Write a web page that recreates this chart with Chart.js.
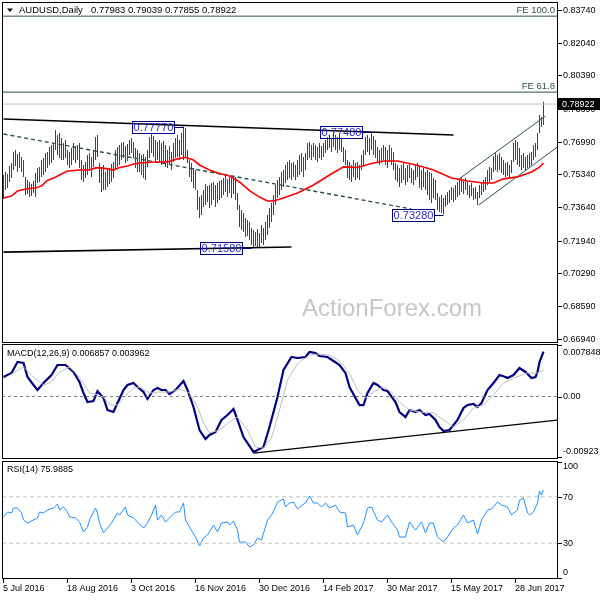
<!DOCTYPE html>
<html>
<head>
<meta charset="utf-8">
<title>AUDUSD Daily</title>
<script src="https://cdn.jsdelivr.net/npm/chart.js@4.4.1/dist/chart.umd.min.js"></script>
<style>
  html, body { margin: 0; padding: 0; background: #fff; }
  #wrap { position: relative; width: 600px; height: 600px; overflow: hidden; }
  #wrap canvas { position: absolute; left: 0; top: 0; }
</style>
</head>
<body>
<div id="wrap">
  <canvas id="priceCanvas" width="600" height="600"></canvas>
  <canvas id="macdCanvas" width="600" height="600"></canvas>
  <canvas id="rsiCanvas" width="600" height="600"></canvas>
</div>
<script>
// daily bars, 5 Jul 2016 .. 11 Jul 2017 (index = trading day)
var highs = [
  0.7530,0.7545,0.7535,0.7576,0.7591,0.7647,0.7658,0.7637,0.7647,0.7622,
  0.7606,0.7520,0.7504,0.7494,0.7484,0.7499,0.7540,0.7566,0.7571,0.7606,
  0.7617,0.7642,0.7647,0.7673,0.7683,0.7693,0.7760,0.7734,0.7744,0.7719,
  0.7693,0.7709,0.7658,0.7647,0.7668,0.7693,0.7678,0.7683,0.7693,0.7606,
  0.7581,0.7596,0.7632,0.7642,0.7622,0.7658,0.7724,0.7734,0.7591,0.7566,
  0.7581,0.7545,0.7555,0.7566,0.7586,0.7596,0.7658,0.7673,0.7683,0.7693,
  0.7698,0.7678,0.7688,0.7709,0.7719,0.7698,0.7668,0.7658,0.7642,0.7632,
  0.7637,0.7622,0.7658,0.7724,0.7744,0.7729,0.7709,0.7698,0.7709,0.7693,
  0.7703,0.7683,0.7658,0.7678,0.7647,0.7693,0.7719,0.7734,0.7709,0.7744,
  0.7777,0.7770,0.7658,0.7606,0.7591,0.7566,0.7555,0.7453,0.7417,0.7428,
  0.7453,0.7484,0.7474,0.7479,0.7489,0.7494,0.7479,0.7489,0.7499,0.7504,
  0.7514,0.7525,0.7509,0.7520,0.7514,0.7525,0.7520,0.7438,0.7376,0.7351,
  0.7336,0.7310,0.7300,0.7290,0.7259,0.7249,0.7239,0.7254,0.7233,0.7274,
  0.7259,0.7290,0.7325,0.7361,0.7387,0.7428,0.7479,0.7504,0.7520,0.7545,
  0.7555,0.7581,0.7596,0.7606,0.7591,0.7596,0.7581,0.7606,0.7632,0.7642,
  0.7622,0.7642,0.7693,0.7698,0.7683,0.7693,0.7683,0.7673,0.7693,0.7678,
  0.7693,0.7709,0.7724,0.7734,0.7719,0.7748,0.7734,0.7724,0.7739,0.7719,
  0.7673,0.7658,0.7606,0.7596,0.7581,0.7606,0.7591,0.7596,0.7581,0.7632,
  0.7658,0.7724,0.7734,0.7719,0.7748,0.7729,0.7709,0.7673,0.7658,0.7668,
  0.7683,0.7673,0.7658,0.7683,0.7668,0.7647,0.7591,0.7581,0.7566,0.7581,
  0.7591,0.7566,0.7581,0.7591,0.7566,0.7555,0.7581,0.7591,0.7581,0.7555,
  0.7566,0.7545,0.7555,0.7545,0.7540,0.7514,0.7504,0.7438,0.7417,0.7428,
  0.7412,0.7428,0.7443,0.7453,0.7468,0.7463,0.7479,0.7494,0.7504,0.7520,
  0.7504,0.7514,0.7494,0.7479,0.7489,0.7463,0.7468,0.7443,0.7479,0.7494,
  0.7504,0.7520,0.7555,0.7571,0.7566,0.7627,0.7642,0.7632,0.7642,0.7622,
  0.7606,0.7591,0.7596,0.7581,0.7606,0.7693,0.7709,0.7698,0.7668,0.7632,
  0.7642,0.7622,0.7632,0.7642,0.7647,0.7683,0.7693,0.7744,0.7836,0.7826,
  0.79039
];
var lows = [
  0.7407,0.7453,0.7463,0.7494,0.7514,0.7555,0.7576,0.7545,0.7566,0.7545,
  0.7520,0.7428,0.7433,0.7417,0.7422,0.7438,0.7417,0.7489,0.7494,0.7520,
  0.7530,0.7545,0.7566,0.7581,0.7591,0.7606,0.7658,0.7632,0.7617,0.7606,
  0.7606,0.7617,0.7581,0.7566,0.7581,0.7606,0.7591,0.7606,0.7566,0.7504,
  0.7494,0.7514,0.7530,0.7555,0.7520,0.7571,0.7606,0.7622,0.7489,0.7443,
  0.7453,0.7453,0.7468,0.7484,0.7494,0.7514,0.7555,0.7571,0.7581,0.7606,
  0.7617,0.7591,0.7601,0.7632,0.7642,0.7617,0.7566,0.7545,0.7545,0.7530,
  0.7514,0.7504,0.7571,0.7617,0.7642,0.7622,0.7591,0.7606,0.7596,0.7581,
  0.7591,0.7571,0.7566,0.7581,0.7555,0.7596,0.7617,0.7622,0.7606,0.7632,
  0.7606,0.7617,0.7591,0.7520,0.7494,0.7463,0.7453,0.7351,0.7310,0.7325,
  0.7366,0.7376,0.7392,0.7361,0.7376,0.7402,0.7366,0.7387,0.7402,0.7412,
  0.7428,0.7443,0.7417,0.7438,0.7412,0.7433,0.7402,0.7351,0.7264,0.7249,
  0.7239,0.7213,0.7218,0.7198,0.7172,0.7162,0.7167,0.7158,0.7162,0.7182,
  0.7172,0.7198,0.7223,0.7259,0.7290,0.7325,0.7376,0.7412,0.7428,0.7453,
  0.7468,0.7489,0.7504,0.7514,0.7504,0.7520,0.7504,0.7520,0.7530,0.7545,
  0.7520,0.7555,0.7606,0.7617,0.7606,0.7622,0.7606,0.7596,0.7617,0.7606,
  0.7622,0.7642,0.7658,0.7668,0.7647,0.7673,0.7658,0.7642,0.7658,0.7647,
  0.7596,0.7581,0.7514,0.7504,0.7494,0.7520,0.7504,0.7514,0.7504,0.7555,
  0.7581,0.7632,0.7647,0.7632,0.7658,0.7632,0.7617,0.7596,0.7581,0.7591,
  0.7606,0.7581,0.7566,0.7596,0.7581,0.7555,0.7504,0.7494,0.7468,0.7489,
  0.7504,0.7479,0.7494,0.7514,0.7489,0.7479,0.7504,0.7520,0.7463,0.7453,
  0.7468,0.7453,0.7428,0.7402,0.7387,0.7412,0.7402,0.7351,0.7341,0.7336,
  0.7328,0.7366,0.7376,0.7387,0.7402,0.7392,0.7402,0.7417,0.7428,0.7443,
  0.7433,0.7453,0.7428,0.7412,0.7422,0.7402,0.7407,0.7376,0.7412,0.7428,
  0.7443,0.7453,0.7479,0.7494,0.7504,0.7545,0.7555,0.7545,0.7555,0.7540,
  0.7530,0.7520,0.7525,0.7514,0.7540,0.7596,0.7606,0.7581,0.7571,0.7555,
  0.7566,0.7555,0.7566,0.7571,0.7581,0.7606,0.7622,0.7658,0.7744,0.7775,
  0.77855
];
var lastOHLC = [0.77983, 0.79039, 0.77855, 0.78922];

// red moving average
var maIdx = [0,4,7,11,16,19,22,25,28,32,38,43,46,49,52,55,58,62,65,68,75,82,87,91,95,98,103,107,113,118,
  123,128,132,135,140,147,155,163,170,177,183,190,197,204,210,215,224,232,240,245,250,257,264,268,270];
var maVal = [0.7412,0.7422,0.7448,0.7458,0.7463,0.7474,0.7502,0.7514,0.7530,0.7550,0.7555,0.7555,0.7566,0.7566,
  0.7561,0.7555,0.7568,0.7576,0.7586,0.7591,0.7596,0.7596,0.7612,0.7620,0.7606,0.7581,0.7555,0.7540,0.7525,0.7494,
  0.7450,0.7417,0.7397,0.7397,0.7412,0.7438,0.7479,0.7530,0.7571,0.7568,0.7586,0.7601,0.7601,0.7586,0.7571,0.7555,
  0.7514,0.7499,0.7489,0.7489,0.7510,0.7520,0.7545,0.7570,0.7591];

// drawn lines on the price panel: [index, price]
var resistLine = [[0, 0.7816], [225, 0.7734]];
var supportLine = [[0, 0.7136], [144, 0.7162]];
var dashedLine = [[0, 0.7739], [204, 0.7356]];
var channelTop = [[227, 0.7504], [271, 0.7831]];
var channelBottom = [[237.5, 0.7376], [277, 0.7673]];
var fe100 = 0.8341, fe618 = 0.7953;

var swingIdx = [90, 184, 124, 220];
var swingPrice = [0.7777, 0.7748, 0.7158, 0.7328];

var priceTicks = [0.8374, 0.8204, 0.8039, 0.7869, 0.7699, 0.7534, 0.7364, 0.7194, 0.7029, 0.6859, 0.6694];

// MACD(12,26,9)
var macdIdx = [0,4,7,10,12,15,17,20,24,27,31,35,38,40,42,45,47,50,52,55,57,60,62,65,67,70,72,75,77,79,81,83,86,90,
  92,95,98,101,103,106,109,112,115,117,120,125,127,130,133,137,140,144,147,151,153,156,158,162,165,168,171,173,176,
  178,180,182,185,187,190,192,196,198,201,203,206,208,211,213,216,218,220,223,227,230,232,235,237,239,242,245,248,
  251,252,255,258,261,264,266,267,268,270];
var macdVal = [0.00297,0.00358,0.00526,0.00511,0.00297,0.00175,0.00099,0.00206,0.00328,0.00480,0.00480,0.00374,
  0.00221,0.00053,-0.00084,-0.00069,0.00084,-0.00023,-0.00206,-0.00236,-0.00099,0.00099,0.00175,0.00206,0.00145,
  0.00069,-0.00038,0.00099,0.00130,0.00099,0.00099,0.00038,0.00099,0.00236,0.00099,-0.00160,-0.00511,-0.00648,
  -0.00587,-0.00541,-0.00358,-0.00282,-0.00191,-0.00358,-0.00618,-0.00846,-0.00816,-0.00770,-0.00465,-0.00008,
  0.00404,0.00602,0.00587,0.00602,0.00679,0.00663,0.00618,0.00602,0.00541,0.00480,0.00358,0.00145,-0.00023,
  -0.00130,-0.00130,0.00053,0.00206,0.00175,0.00099,0.00084,-0.00084,-0.00236,-0.00313,-0.00206,-0.00236,-0.00206,
  -0.00282,-0.00267,-0.00358,-0.00465,-0.00526,-0.00511,-0.00358,-0.00175,-0.00130,-0.00114,-0.00160,-0.00099,
  0.00099,0.00206,0.00328,0.00297,0.00282,0.00328,0.00435,0.00374,0.00282,0.00297,0.00374,0.00526,0.006857];
var sigIdx = [0,5,10,15,20,24,28,33,38,43,47,50,53,57,60,65,68,73,78,83,88,93,97,100,103,108,113,117,122,126,
  130,134,138,142,147,153,158,163,168,173,177,181,185,190,194,198,203,208,215,220,225,230,235,240,245,250,255,262,267,270];
var sigVal = [0.00267,0.00358,0.00450,0.00297,0.00175,0.00221,0.00374,0.00450,0.00297,0.00053,0.00023,-0.00008,
  -0.00130,-0.00130,-0.00023,0.00130,0.00145,0.00053,0.00069,0.00069,0.00114,0.00053,-0.00160,-0.00404,-0.00557,
  -0.00511,-0.00389,-0.00313,-0.00511,-0.00770,-0.00785,-0.00633,-0.00206,0.00252,0.00500,0.00633,0.00648,0.00633,
  0.00541,0.00358,0.00099,-0.00023,0.00069,0.00145,0.00069,-0.00084,-0.00206,-0.00236,-0.00252,-0.00358,-0.00465,
  -0.00358,-0.00175,-0.00130,0.00023,0.00206,0.00282,0.00358,0.00358,0.003962];
var macdTrend = [[125, -0.00862], [277, -0.00358]];
var macdTicks = [0.007848, 0, -0.00923];
var macdTickText = ['0.007848', '0.00', '-0.00923'];

// RSI(14)
var rsiIdx = [0,2,4,5,7,9,10,12,15,17,18,20,22,25,27,28,30,32,33,36,38,40,42,43,46,47,48,50,52,54,57,58,61,62,65,
  67,70,72,74,76,77,79,81,83,86,88,90,91,93,96,98,100,102,105,107,109,112,113,115,117,118,121,123,125,127,129,132,
  134,136,137,140,141,143,145,147,148,151,153,155,157,159,161,163,166,168,171,172,175,177,180,182,184,187,189,192,
  194,197,198,201,203,206,209,211,213,215,217,220,222,225,227,230,232,235,237,239,242,244,247,249,252,254,257,258,
  260,262,263,265,267,268,269,270];
var rsiVal = [52.6,56.9,56.0,60.3,60.3,56.0,50.0,47.4,50.0,51.7,56.9,56.0,58.6,60.3,63.8,58.6,61.2,56.9,52.6,51.7,
  48.3,39.7,44.0,50.0,60.3,56.0,47.4,38.8,43.1,47.4,56.0,54.3,61.2,54.3,51.7,48.3,43.1,47.4,54.3,62.9,50.0,54.3,
  48.3,51.7,56.9,56.9,64.7,50.0,44.0,35.3,27.6,34.5,37.1,45.7,39.7,47.4,48.3,45.7,49.1,41.4,31.0,31.0,26.7,28.4,
  34.5,32.8,50.0,54.3,61.2,65.5,68.1,61.2,64.7,65.5,59.5,61.2,64.7,70.7,64.7,64.7,61.2,64.7,60.3,62.9,56.9,56.0,
  44.0,45.7,37.1,47.4,60.3,61.2,50.0,48.3,54.3,48.3,41.4,35.3,35.3,48.3,41.4,48.3,38.8,47.4,47.4,35.3,31.0,35.3,
  43.1,45.7,54.3,47.4,50.0,37.9,50.0,58.6,59.5,65.5,62.9,61.2,54.3,58.6,67.2,69.0,56.0,54.3,56.9,64.7,75.0,71.5,
  75.9885];
var rsiTicks = [100, 70, 30, 0];

var dateIdx = [0, 32, 64, 96, 128, 160, 192, 224, 256];
var dateLabels = ['5 Jul 2016', '18 Aug 2016', '3 Oct 2016', '16 Nov 2016', '30 Dec 2016',
  '14 Feb 2017', '30 Mar 2017', '15 May 2017', '28 Jun 2017'];

var FONT = "'Liberation Sans', Arial, sans-serif";
var X_MIN = -0.75, X_MAX = 276.75;

function pts(xs, ys) { return xs.map(function (x, k) { return { x: x, y: ys[k] }; }); }
function seg(line) { return line.map(function (p) { return { x: p[0], y: p[1] }; }); }
function level(v) { return [{ x: X_MIN, y: v }, { x: X_MAX, y: v }]; }

function lineSet(data, color, width, dash) {
  return {
    type: 'line', data: data, borderColor: color, borderWidth: width,
    borderDash: dash || [], pointRadius: 0, tension: 0, fill: false, order: 1
  };
}

function makeOptions(pad, ymin, ymax) {
  return {
    responsive: false, animation: false, events: [], devicePixelRatio: 1,
    layout: { padding: pad },
    plugins: { legend: { display: false }, tooltip: { enabled: false } },
    scales: {
      x: { type: 'linear', min: X_MIN, max: X_MAX, display: false, offset: false, grid: { offset: false } },
      y: { type: 'linear', min: ymin, max: ymax, display: false, beginAtZero: false }
    }
  };
}

function drawFrame(ctx, a) {
  ctx.save();
  ctx.strokeStyle = '#000';
  ctx.lineWidth = 1;
  ctx.strokeRect(a.left + 0.5, a.top + 0.5, a.right - a.left, a.bottom - a.top);
  ctx.restore();
}

function axisLabel(ctx, text, yTick, dy) {
  var y = Math.round(yTick) + 0.5;
  ctx.beginPath();
  ctx.moveTo(558, y);
  ctx.lineTo(562, y);
  ctx.stroke();
  ctx.fillText(text, 563, yTick + dy);
}

// ---------- price panel ----------
var priceDecor = {
  id: 'priceDecor',
  beforeDatasetsDraw: function (chart) {
    var ctx = chart.ctx;
    ctx.save();
    ctx.fillStyle = '#c6c6c6';
    ctx.font = '24px ' + FONT;
    ctx.textAlign = 'left';
    ctx.textBaseline = 'alphabetic';
    ctx.fillText('ActionForex.com', 302, 316);
    ctx.restore();
  },
  afterDraw: function (chart) {
    var ctx = chart.ctx, xs = chart.scales.x, ys = chart.scales.y;
    drawFrame(ctx, chart.chartArea);
    ctx.save();
    ctx.strokeStyle = '#000';
    ctx.lineWidth = 1;
    ctx.fillStyle = '#000';
    ctx.font = '9px ' + FONT;
    ctx.textAlign = 'left';
    ctx.textBaseline = 'middle';
    priceTicks.forEach(function (v) { axisLabel(ctx, v.toFixed(5), ys.getPixelForValue(v), 0.5); });

    // current price
    var cy = ys.getPixelForValue(lastOHLC[3]);
    ctx.fillStyle = '#000';
    ctx.fillRect(558, Math.round(cy) - 6, 42, 12);
    ctx.fillStyle = '#fff';
    ctx.fillText(lastOHLC[3].toFixed(5), 562, cy + 0.5);

    // title
    ctx.fillStyle = '#000';
    ctx.beginPath();
    ctx.moveTo(7, 8.5); ctx.lineTo(13, 8.5); ctx.lineTo(10, 12); ctx.closePath();
    ctx.fill();
    ctx.font = '9.5px ' + FONT;
    ctx.fillText('AUDUSD,Daily', 19, 10.5);
    ctx.fillText(lastOHLC.map(function (v) { return v.toFixed(5); }).join(' '), 91, 10.5);

    // fibonacci expansion labels
    ctx.fillStyle = '#2f4f4f';
    ctx.textAlign = 'right';
    ctx.fillText('FE 100.0', 555, ys.getPixelForValue(fe100) - 6);
    ctx.fillText('FE 61.8', 555, ys.getPixelForValue(fe618) - 6);

    // swing high / low tags
    ctx.font = '11px ' + FONT;
    ctx.textAlign = 'center';
    ctx.strokeStyle = '#000080';
    swingIdx.forEach(function (idx, k) {
      var px = xs.getPixelForValue(idx);
      var py = Math.round(ys.getPixelForValue(swingPrice[k])) + 0.5;
      var right = Math.round(px - 10) + 0.5, left = right - 42;
      ctx.strokeRect(left, py - 6, 42, 12);
      ctx.beginPath();
      ctx.moveTo(right, py);
      ctx.lineTo(px, py);
      ctx.stroke();
      ctx.fillStyle = '#2b2bc4';
      ctx.fillText(swingPrice[k].toFixed(5), left + 21, py + 0.5);
    });
    ctx.restore();
  }
};

new Chart(document.getElementById('priceCanvas'), {
  type: 'bar',
  data: {
    datasets: [
      {
        type: 'bar',
        data: highs.map(function (h, k) { return { x: k, y: [lows[k], h] }; }),
        backgroundColor: '#1e4d6b', borderWidth: 0, barThickness: 1,
        inflateAmount: 0, order: 10
      },
      lineSet(maPts = pts(maIdx, maVal), '#ff0000', 1.6),
      lineSet(seg(resistLine), '#000000', 1.6),
      lineSet(seg(supportLine), '#000000', 1.6),
      lineSet(seg(dashedLine), '#2f4f4f', 1.4, [4, 3]),
      lineSet(seg(channelTop), '#2f4f4f', 1),
      lineSet(seg(channelBottom), '#2f4f4f', 1),
      lineSet(level(fe100), '#2f4f4f', 1),
      lineSet(level(fe618), '#2f4f4f', 1),
      lineSet(level(lastOHLC[3]), '#c0c0c0', 1)
    ]
  },
  options: makeOptions({ left: 2, right: 43, top: 2, bottom: 258 }, 0.66769, 0.84133),
  plugins: [priceDecor]
});

// ---------- MACD panel ----------
var macdDecor = {
  id: 'macdDecor',
  afterDraw: function (chart) {
    var ctx = chart.ctx, ys = chart.scales.y;
    drawFrame(ctx, chart.chartArea);
    ctx.save();
    ctx.strokeStyle = '#000';
    ctx.fillStyle = '#000';
    ctx.lineWidth = 1;
    ctx.font = '9px ' + FONT;
    ctx.textAlign = 'left';
    ctx.textBaseline = 'middle';
    var shift = [7, 0.5, -6];
    macdTicks.forEach(function (v, k) { axisLabel(ctx, macdTickText[k], ys.getPixelForValue(v), shift[k]); });
    ctx.fillText('MACD(12,26,9) ' + macdVal[macdVal.length - 1].toFixed(6) + ' ' +
      sigVal[sigVal.length - 1].toFixed(6), 7, 353.5);
    ctx.restore();
  }
};

new Chart(document.getElementById('macdCanvas'), {
  type: 'line',
  data: {
    datasets: [
      lineSet(level(0), '#808080', 1, [3, 3]),
      lineSet(seg(macdTrend), '#000000', 1.2),
      lineSet(pts(sigIdx, sigVal), '#c0c0c0', 1),
      lineSet(pts(macdIdx, macdVal), '#000080', 2.2)
    ]
  },
  options: makeOptions({ left: 2, right: 43, top: 344, bottom: 142 }, -0.009378, 0.008006),
  plugins: [macdDecor]
});

// ---------- RSI panel ----------
var rsiDecor = {
  id: 'rsiDecor',
  afterDraw: function (chart) {
    var ctx = chart.ctx, xs = chart.scales.x, ys = chart.scales.y;
    drawFrame(ctx, chart.chartArea);
    ctx.save();
    ctx.strokeStyle = '#000';
    ctx.fillStyle = '#000';
    ctx.lineWidth = 1;
    ctx.font = '9px ' + FONT;
    ctx.textAlign = 'left';
    ctx.textBaseline = 'middle';
    var shift = [5, 0.5, 0.5, -5.5];
    rsiTicks.forEach(function (v, k) { axisLabel(ctx, String(v), ys.getPixelForValue(v), shift[k]); });
    ctx.fillText('RSI(14) ' + rsiVal[rsiVal.length - 1].toFixed(4), 7, 470);

    // date axis
    var bottom = chart.chartArea.bottom;
    dateIdx.forEach(function (idx, k) {
      var px = Math.floor(xs.getPixelForValue(idx)) + 0.5;
      ctx.beginPath();
      ctx.moveTo(px, bottom + 1);
      ctx.lineTo(px, bottom + 5);
      ctx.stroke();
      ctx.fillText(dateLabels[k], px - 0.5, 588.5);
    });
    ctx.restore();
  }
};

new Chart(document.getElementById('rsiCanvas'), {
  type: 'line',
  data: {
    datasets: [
      lineSet(level(70), '#c0c0c0', 1, [4, 3]),
      lineSet(level(30), '#c0c0c0', 1, [4, 3]),
      lineSet(pts(rsiIdx, rsiVal), '#1e90ff', 1)
    ]
  },
  options: makeOptions({ left: 2, right: 43, top: 461, bottom: 22 }, 0, 100.86),
  plugins: [rsiDecor]
});
</script>
</body>
</html>
